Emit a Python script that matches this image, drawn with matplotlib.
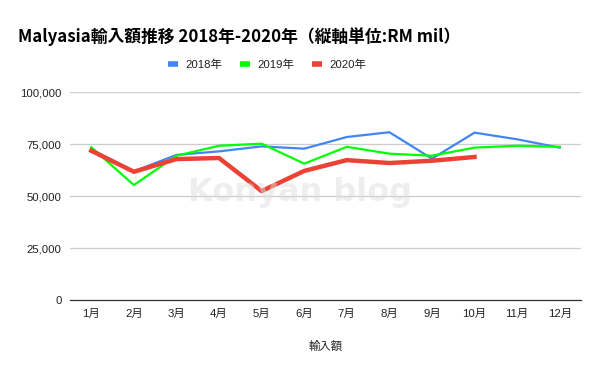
import matplotlib

matplotlib.use("Agg")

import matplotlib.pyplot as plt
from matplotlib.lines import Line2D
from matplotlib.ticker import FuncFormatter, MultipleLocator

MONTHS = ["1月", "2月", "3月", "4月", "5月", "6月", "7月", "8月", "9月", "10月", "11月", "12月"]
IMPORTS_2018 = [72600, 62000, 69900, 71600, 74000, 72900, 78500, 80800, 68100, 80600, 77400, 73400]
IMPORTS_2019 = [73600, 55400, 69500, 74300, 75300, 65700, 73800, 70500, 69500, 73400, 74300, 73800]
IMPORTS_2020 = [71900, 61800, 67900, 68400, 52500, 62200, 67400, 66000, 67100, 68900]

SERIES = [
    ("2018年", IMPORTS_2018, "#4285f4", 1.6),
    ("2019年", IMPORTS_2019, "#00ff00", 1.6),
    ("2020年", IMPORTS_2020, "#ea4335", 3.2),
]

TEXT_FONT = ["Liberation Sans", "Noto Sans CJK JP"]
TITLE_FONT = ["Noto Sans CJK JP", "DejaVu Sans"]

plt.rcParams["font.family"] = TEXT_FONT

fig = plt.figure(figsize=(6.0, 3.71), dpi=100)
fig.patch.set_facecolor("white")
ax = fig.add_axes([70 / 600, 1 - 300.3 / 371, 511 / 600, 208 / 371])

for label, values, color, width in SERIES:
    ax.plot(range(len(values)), values, color=color, linewidth=width, label=label,
            solid_joinstyle="round", zorder=3)

ax.set_xlim(-0.5, len(MONTHS) - 0.5)
ax.set_ylim(0, 100000)
ax.yaxis.set_major_locator(MultipleLocator(25000))
ax.yaxis.set_major_formatter(FuncFormatter(lambda v, _: f"{int(v):,}"))
ax.set_xticks(range(len(MONTHS)))
ax.set_xticklabels(MONTHS)
ax.tick_params(axis="both", length=0, labelsize=8.2, colors="#222222")
ax.tick_params(axis="x", pad=6)
ax.tick_params(axis="y", pad=6)
ax.grid(axis="y", color="#cccccc", linewidth=0.9, zorder=0)
for side in ["top", "right", "left"]:
    ax.spines[side].set_visible(False)
ax.spines["bottom"].set_color("#333333")
ax.spines["bottom"].set_linewidth(0.9)
ax.spines["bottom"].set_zorder(4)

ax.set_xlabel("輸入額", fontsize=8.2, color="#222222", labelpad=16)

# watermark
ax.text(0.45, 0.52, "Konyan blog", transform=ax.transAxes, ha="center", va="center",
        fontsize=23, fontweight="bold", color="#dedede", alpha=0.5, zorder=5,
        family=["DejaVu Sans"])

fig.text(18 / 600, 1 - 37 / 371, "Malyasia輸入額推移 2018年-2020年（縦軸単位:RM mil）",
         ha="left", va="center", fontsize=12.1, fontweight="bold", color="#000000",
         family=TITLE_FONT)

handles = [Line2D([], [], color=c, linewidth=4, solid_capstyle="butt") for _, _, c, _ in SERIES]
fig.legend(handles, [s[0] for s in SERIES], loc="center", bbox_to_anchor=(267 / 600, 1 - 65 / 371),
           ncol=3, frameon=False, fontsize=8.2, handlelength=0.9, handletextpad=0.6,
           columnspacing=1.6, labelcolor="#222222")

fig.savefig("out.png", dpi=100)
